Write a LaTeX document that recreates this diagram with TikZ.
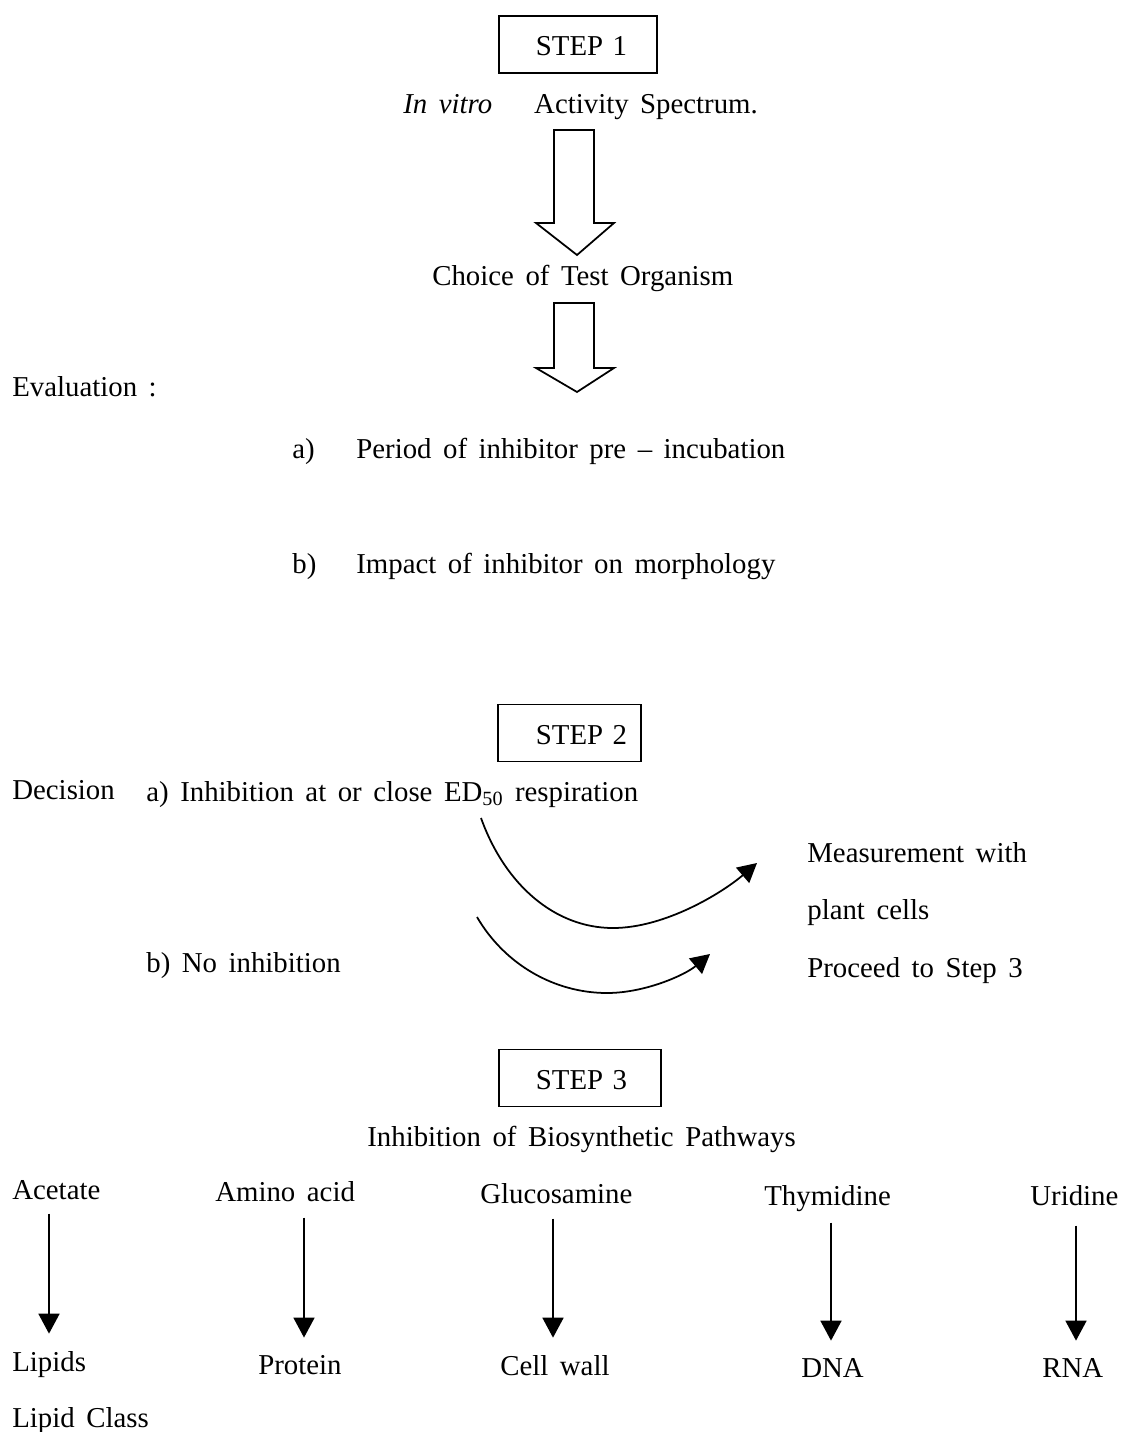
\documentclass[tikz,border=0pt]{standalone}
\usepackage{fontspec}
\setmainfont{Liberation Serif}[WordSpace=1.6]
\usetikzlibrary{arrows.meta}

\begin{document}
\begin{tikzpicture}[
    x=0.02cm, y=-0.02cm,
    every node/.style={font=\fontsize{16.4}{19}\selectfont, inner sep=0pt},
    lbl/.style={anchor=base west},
    stepbox/.style={draw, line width=1pt, anchor=west, minimum height=1.14cm,
                    text width=#1, align=left, text height=0.45cm, text depth=0pt},
    hollow/.style={draw, line width=1pt, fill=white, line join=miter},
    flow/.style={line width=1pt, -{Triangle[length=0.4cm, width=0.42cm]},
                 shorten >=0.34cm},
    swing/.style={line width=1pt, -{Triangle[length=0.38cm, width=0.4cm]}},
]
\useasboundingbox (0,0) rectangle (1120,1432);

% ── Step 1 ──
\node[stepbox=3.16cm] (step1) at (498,44.5) {\hspace*{0.74cm}STEP 1};
\node[lbl] (vitro) at (403,114) {\textit{In vitro}\hspace{0.84cm}Activity Spectrum.};
\node[lbl] (choice) at (432,286) {Choice of Test Organism};
\node[lbl] (eval) at (12,397) {Evaluation :};
\node[lbl] (evala) at (292,458) {a)};
\node[lbl] (period) at (356,458) {Period of inhibitor pre -- incubation};
\node[lbl] (evalb) at (292,573) {b)};
\node[lbl] (impact) at (356,573) {Impact of inhibitor on morphology};

% hollow arrows (drawn as outlines)
\coordinate (h1) at (575,130);
\draw[hollow] (h1) ++(-21,0) -- ++(40,0) -- ++(0,93) -- ++(20,0)
    -- ++(-37,32) -- ++(-41,-32) -- ++(18,0) -- cycle;
\coordinate (h2) at (575,303);
\draw[hollow] (h2) ++(-21,0) -- ++(40,0) -- ++(0,65) -- ++(20,0)
    -- ++(-37,24) -- ++(-41,-24) -- ++(18,0) -- cycle;

% ── Step 2 ──
\node[stepbox=2.86cm] (step2) at (497,733) {\hspace*{0.76cm}STEP 2};
\node[lbl] (decision) at (12,799) {Decision};
\node[lbl] (inha) at (146,801) {a) Inhibition at or close ED\textsubscript{50} respiration};
\node[lbl] (inhb) at (146,972) {b) No inhibition};
\node[lbl] (meas) at (807,862) {Measurement with};
\node[lbl] (cells) at (807,919) {plant cells};
\node[lbl] (proceed) at (807,977) {Proceed to Step 3};

\coordinate (sa) at (481,818);
\coordinate (ea) at (757,863);
\coordinate (sb) at (477,917);
\coordinate (eb) at (710,954);
\draw[swing] (sa) .. controls (505,885) and (555,928) .. (613,928)
    .. controls (665,928) and (722,893) .. (ea);
\draw[swing] (sb) .. controls (505,965) and (555,993) .. (607,993)
    .. controls (645,993) and (685,975) .. (eb);

% ── Step 3 ──
\node[stepbox=3.24cm] (step3) at (498,1078) {\hspace*{0.74cm}STEP 3};
\node[lbl] (biosyn) at (367,1146) {Inhibition of Biosynthetic Pathways};

\node[lbl] (acetate) at (12,1199) {Acetate};
\node[lbl] (amino) at (215,1201) {Amino acid};
\node[lbl] (glucos) at (480,1203) {Glucosamine};
\node[lbl] (thymid) at (764,1205) {Thymidine};
\node[lbl] (uridine) at (1030,1205) {Uridine};

\node[lbl] (lipids) at (12,1371) {Lipids};
\node[lbl] (protein) at (258,1374) {Protein};
\node[lbl] (cellwall) at (500,1375) {Cell wall};
\node[lbl] (dna) at (801,1377) {DNA};
\node[lbl] (rna) at (1042,1377) {RNA};
\node[lbl] (lipclass) at (12,1427) {Lipid Class};

\draw[flow] (acetate.south west) ++(37,14) coordinate (a0) -- (a0 |- lipids.north);
\draw[flow] (amino.south west) ++(89,16) coordinate (b0) -- (b0 |- protein.north);
\draw[flow] (glucos.south west) ++(73,15) coordinate (c0) -- (c0 |- cellwall.north);
\draw[flow] (thymid.south west) ++(67,11) coordinate (d0) -- (d0 |- dna.north);
\draw[flow] (uridine.south west) ++(46,20) coordinate (e0) -- (e0 |- rna.north);
\end{tikzpicture}
\end{document}
